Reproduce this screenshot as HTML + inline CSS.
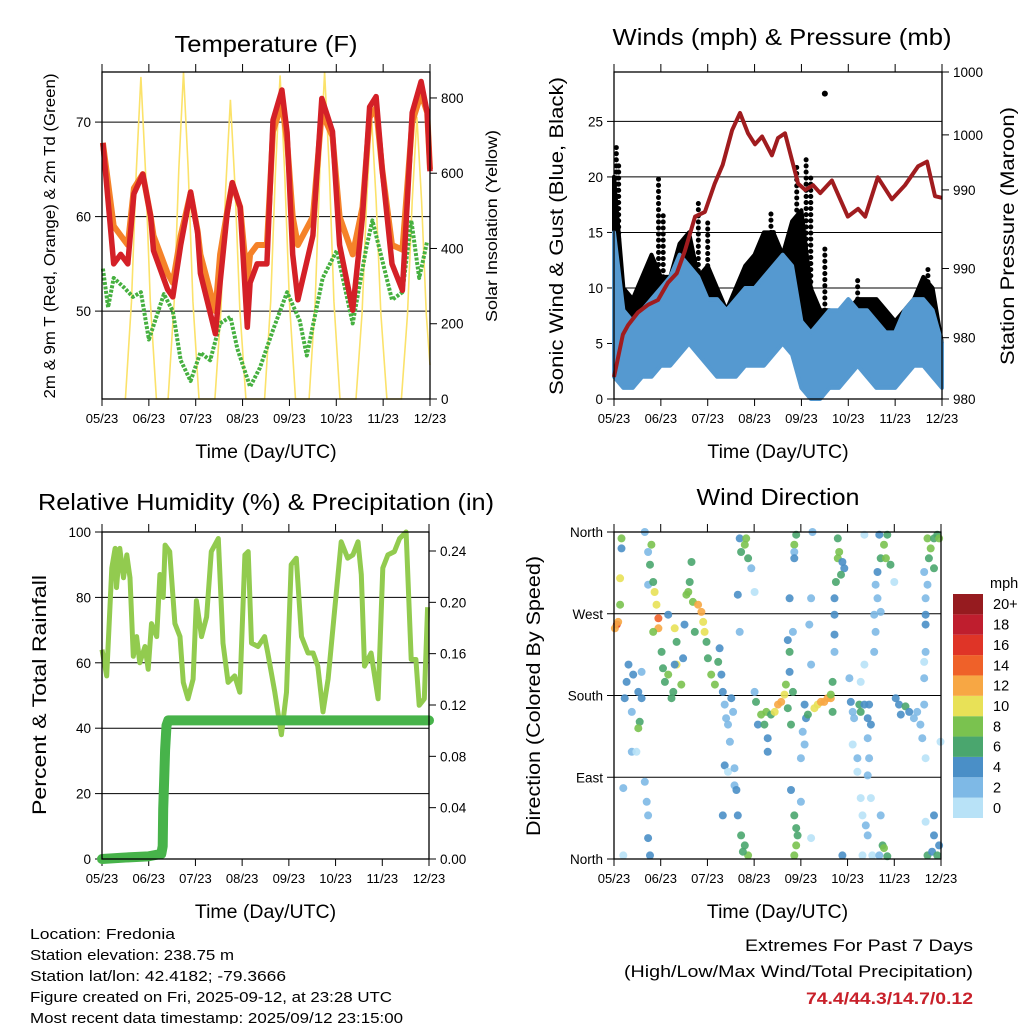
<!DOCTYPE html>
<html><head><meta charset="utf-8"><style>
html,body{margin:0;padding:0;background:#fff;}
svg{display:block;font-family:"Liberation Sans",sans-serif;}
</style></head><body>
<svg id="c" width="1024" height="1024" viewBox="0 0 1024 1024" xmlns="http://www.w3.org/2000/svg"></svg>
<script>
// ---------- Temperature panel data ----------
const tDays=[0.02,0.25,0.40,0.55,0.68,0.87,1.04,1.10,1.40,1.51,1.68,1.89,2.04,2.10,2.42,2.52,2.67,2.78,2.95,3.10,3.16,3.31,3.52,3.65,3.84,3.95,4.07,4.18,4.50,4.69,4.92,5.07,5.35,5.56,5.71,5.85,5.98,6.19,6.41,6.62,6.81,6.94,7.0];
const tRed=[67.8,55,56,55,62.4,64.5,60,56.4,52.3,51.5,57,62.6,58.3,54,47.6,53,60.3,63.6,61,48.3,53,55,55,70.2,73.4,68.9,56,51.2,58,72.5,69,57,50.1,60,71.6,72.7,65,55,52.2,71,74.3,71,64.8];
const tOrange=[67.8,59,58,57,63,64.5,60,58,54,53,58,62.5,58.5,56,50,56,60.5,63.5,61,53,56,57,57,69,72,68,60,57,60,71,68.5,60,56,61,70.5,71.5,65,57,56.5,70,73,71,65];
const tdDays=[0.02,0.13,0.25,0.47,0.66,0.83,1.0,1.32,1.51,1.68,1.89,2.10,2.31,2.52,2.74,2.89,3.16,3.37,3.65,3.95,4.22,4.37,4.71,5.01,5.35,5.64,5.77,5.98,6.19,6.41,6.60,6.77,6.94];
const tdVals=[54.5,50.4,53.5,52.5,51.5,52,47,51.8,50,44.8,42.6,45.6,44.8,48.7,49.4,46,42,44,48,52,49,45.3,53.5,56.4,48.7,56.7,59.6,55.4,51.2,52,59.6,53.5,57.4];
const solarDays=[0.5,0.63,0.73,0.83,0.93,1.03,1.16,1.41,1.54,1.64,1.74,1.84,1.94,2.07,2.41,2.54,2.64,2.74,2.84,2.94,3.07,3.47,3.6,3.7,3.8,3.9,4.0,4.13,4.42,4.55,4.65,4.75,4.85,4.95,5.08,5.42,5.55,5.65,5.75,5.85,5.95,6.08,6.39,6.52,6.62,6.72,6.82,6.92,7.0];
const solarVals=[0,260,600,856,600,260,0,0,260,610,869,610,260,0,0,240,560,795,560,240,0,0,260,600,860,600,260,0,0,260,610,869,610,260,0,0,230,530,755,530,230,0,0,225,525,750,525,225,90];
const tTicks=[50,60,70], solarTicks=[0,200,400,600,800];
const dateLabels=["05/23","06/23","07/23","08/23","09/23","10/23","11/23","12/23"];

// ---------- Wind panel data ----------
const wDays=[0,0.2,0.4,0.6,0.8,1.0,1.2,1.4,1.6,1.8,2.0,2.2,2.4,2.6,2.8,3.0,3.2,3.4,3.6,3.8,4.0,4.2,4.4,4.6,4.8,5.0,5.2,5.4,5.6,5.8,6.0,6.2,6.4,6.6,6.8,7.0];
const blueHi=[15,8,7,8,9,10,11,13,12,11,9,9,8,9,10,10,11,12,13,12,7,6,7,8,8,9,8,8,7,6,6,8,9,9,8,5];
const blueLo=[2,1,1,2,2,3,3,4,5,4,3,2,2,2,3,3,3,4,5,4,1,0,0,1,1,2,3,2,1,1,1,2,3,3,2,1];
const gustHi=[20,10,9,11,13,11,11,14,15,11,12,10,8,10,12,13,15,15,13,16,17,10,8,8,7,8,9,9,9,8,7,8,9,11,10,5];
const gustLo=[10,5,4,5,6,5,6,8,9,6,5,4,3,4,5,6,7,8,7,9,8,3,1,1,2,3,4,4,3,2,2,3,4,5,4,2];
const spikeDays=[0.05,0.1,0.95,1.05,1.8,2.0,3.35,3.4,3.9,4.1,4.2,4.5,5.2,6.7];
const spikeGust=[23,21,20,17,18,16,17,15,21,22,20,14,11,12];
const outlierDay=[4.5], outlierGust=[27.5];
const pDays=[0,0.19,0.30,0.51,0.73,0.94,1.15,1.34,1.51,1.73,1.94,2.15,2.32,2.52,2.69,2.86,3.01,3.16,3.37,3.50,3.65,3.93,4.08,4.25,4.40,4.65,4.99,5.21,5.36,5.63,5.93,6.21,6.49,6.68,6.85,7.0];
const pVals=[981.0,983.7,984.3,985.1,985.6,985.9,987.0,987.6,989.0,991.2,991.5,993.3,994.5,996.7,997.8,996.5,995.8,996.3,995.1,996.2,996.5,993.3,992.9,993.2,992.7,993.5,991.2,991.7,991.2,993.7,992.3,993.2,994.4,994.7,992.5,992.4];
const windTicks=[0,5,10,15,20,25];
const pTickVals=[979.6,983.5,987.9,992.9,996.4,1000.4];
const pTickLabels=["980","980","990","990","1000","1000"];

// ---------- RH panel data ----------
const rhDays=[0,0.10,0.21,0.28,0.31,0.38,0.46,0.53,0.60,0.67,0.74,0.81,0.92,0.99,1.06,1.17,1.24,1.31,1.35,1.45,1.56,1.67,1.74,1.84,1.95,2.02,2.13,2.24,2.34,2.49,2.59,2.70,2.84,2.95,3.06,3.13,3.20,3.34,3.48,3.55,3.70,3.84,3.95,4.05,4.16,4.27,4.41,4.52,4.62,4.73,4.84,4.98,5.12,5.26,5.37,5.48,5.55,5.62,5.76,5.91,6.01,6.12,6.26,6.37,6.51,6.62,6.72,6.79,6.90,6.97];
const rhVals=[64,56,89,95,83,95,86,93,86,62,68,60,65,58,72,68,87,80,96,94,72,68,54,49,55,79,68,74,94,98,66,54,56,51,93,94,66,65,68,63,51,38,51,90,92,68,63,63,59,45,55,76,97,92,93,97,87,59,63,49,89,93,94,98,100,61,61,47,49,77];
const prDays=[0,0.42,0.99,1.27,1.30,1.31,1.33,1.35,1.38,1.42,1.6,2.5,3.5,4.5,5.5,6.5,7.0];
const prVals=[0,0.001,0.002,0.004,0.01,0.039,0.06,0.085,0.104,0.108,0.108,0.108,0.108,0.108,0.108,0.108,0.108];
const rhTicks=[0,20,40,60,80,100];
const prTicks=[0,0.04,0.08,0.12,0.16,0.20,0.24];
const prTickLabels=["0.00","0.04","0.08","0.12","0.16","0.20","0.24"];

// ---------- Wind direction data ----------
const dirDays=[0.06,0.09,0.02,0.13,0.13,0.16,0.16,0.31,0.27,0.23,0.38,0.52,0.59,0.55,0.52,0.41,0.59,0.38,0.48,0.66,0.73,0.77,0.80,0.73,0.84,0.87,0.91,0.95,0.95,0.84,1.02,1.05,1.09,1.16,1.23,1.27,1.34,1.30,1.34,1.44,1.48,1.51,1.16,1.30,1.55,1.62,1.66,1.59,1.69,1.80,1.87,1.91,1.94,1.73,1.98,2.01,2.08,2.16,2.23,2.26,2.30,2.33,0.66,0.70,0.73,0.73,0.77,0.20,0.20,2.37,2.40,2.44,2.48,2.37,2.44,2.55,2.51,2.58,2.69,2.72,2.80,2.83,2.87,2.94,2.65,2.69,3.01,2.58,2.62,2.33,2.65,2.72,2.80,2.87,2.76,3.01,3.04,3.08,3.15,3.22,3.26,3.29,3.29,3.36,3.44,3.51,3.58,3.65,3.68,3.72,3.76,3.76,3.72,3.79,3.83,3.83,3.76,3.86,3.90,3.86,3.86,3.79,3.86,3.90,3.93,3.90,3.86,4.00,4.08,4.11,4.04,4.08,4.00,4.15,4.22,4.22,4.25,4.18,4.22,4.29,4.36,4.43,4.50,4.57,4.64,4.68,4.68,4.72,4.72,4.72,4.72,4.64,4.79,4.82,4.79,4.89,4.93,4.86,4.75,4.89,5.04,5.07,5.11,5.14,5.11,5.21,5.25,5.28,5.36,5.43,5.50,5.46,5.21,5.43,5.46,5.43,5.28,5.36,5.28,5.32,5.39,5.50,5.43,5.32,5.53,5.57,5.60,5.57,5.64,5.60,5.64,5.71,5.78,5.85,5.82,5.92,5.68,5.71,6.00,5.36,5.71,5.75,5.78,5.85,5.68,6.03,6.10,6.14,6.24,6.32,6.42,6.49,6.56,6.64,6.60,6.67,6.64,6.64,6.67,6.67,6.67,6.67,6.71,6.64,6.71,6.78,6.85,6.92,6.74,6.85,6.96,6.71,6.81,6.85,6.85,6.67,6.96,6.92,6.99];
const dirDeg=[258,261,254,280,309,353,342,214,195,177,162,184,177,151,144,203,206,118,118,360,338,324,346,302,305,294,280,265,254,250,228,210,195,203,177,184,214,254,239,192,221,258,269,214,291,305,327,294,283,280,272,261,250,250,239,221,203,192,217,232,203,184,85,63,48,23,4,78,4,170,155,148,129,103,96,162,177,100,353,338,346,353,331,320,291,250,294,81,76,48,48,26,15,4,8,184,173,148,159,148,162,133,118,159,162,170,173,181,192,166,206,228,241,148,184,250,287,346,357,338,331,76,48,34,26,15,4,63,170,155,140,126,111,159,214,287,360,258,23,166,170,173,173,177,177,162,195,287,269,247,228,181,353,338,331,327,320,313,305,4,199,173,162,155,126,111,170,162,170,155,148,170,96,92,111,133,195,214,67,48,37,67,26,4,4,228,250,269,287,302,316,331,346,357,331,324,357,272,305,357,48,15,12,3,4,177,170,159,168,162,155,162,148,170,133,111,217,199,228,258,269,287,302,316,353,342,353,357,331,320,353,4,8,26,48,41,15,4,129];
const dirSpd=[16,13,12,8,10,8,4,4,4,4,2,4,4,6,8,4,2,2,1,2,2,6,8,2,6,10,10,14,12,8,6,6,6,8,6,6,10,10,6,8,4,4,4,4,8,6,6,8,8,12,12,10,10,6,6,6,8,8,6,4,4,4,2,2,2,4,4,2,1,2,2,2,2,4,1,2,4,2,4,6,8,8,6,2,4,2,1,2,4,4,4,6,6,8,6,2,6,4,8,6,8,4,4,6,10,12,12,10,8,6,4,6,4,6,6,2,4,8,6,2,4,4,6,6,6,8,8,2,4,4,2,2,2,6,2,2,2,2,1,10,10,12,12,12,12,6,6,4,4,4,2,8,6,8,8,4,4,6,6,4,2,4,2,2,1,2,6,6,4,4,4,4,1,2,2,2,1,1,1,1,2,1,2,1,1,2,2,2,2,2,4,6,8,6,8,6,4,2,1,1,2,6,8,6,2,4,4,4,6,4,2,2,2,2,2,1,1,2,2,4,4,2,2,2,8,8,6,6,6,6,8,6,4,4,4,1,4,6,1];
const dirTickVals=[0,90,180,270,360];
const dirTickLabels=["North","East","South","West","North"];
const cbColors=["#b8e2f7","#7eb9e6","#4a8fc7","#4aa66e","#7ac24f","#e8e157","#f7a744","#ef6129","#df3427","#bf1e2e","#961b1f"];
const cbLabels=["0","2","4","6","8","10","12","14","16","18","20+"];

// ---------- helpers ----------
const NS="http://www.w3.org/2000/svg";
const svg=document.getElementById('c');
function el(tag,attrs,parent,text){const e=document.createElementNS(NS,tag);for(const k in attrs)e.setAttribute(k,attrs[k]);if(text!==undefined)e.textContent=text;(parent||svg).appendChild(e);return e;}
function lin(d0,d1,r0,r1){return v=>r0+(v-d0)/(d1-d0)*(r1-r0);}
function path(xs,ys,sx,sy){return xs.map((v,i)=>(i?'L':'M')+sx(v).toFixed(1)+','+sy(ys[i]).toFixed(1)).join('');}

function frame(name){
  const g=el('g',{});
  
  
  return g;
}
function box(g,x0,x1,y0,y1){const r=el('rect',{x:x0,y:y0,width:x1-x0,height:y1-y0,fill:'none',stroke:'#000','stroke-width':1.3},g);}
function xAxis(g,x0,x1,y0,y1,tly){
  const sx=lin(0,7,x0,x1);
  const ax=el('g',{},g);
  
  
  dateLabels.forEach((l,i)=>{
    const x=sx(i);
    el('line',{x1:x,x2:x,y1:y1,y2:y1+7,stroke:'#000','stroke-width':1},ax);
    el('line',{x1:x,x2:x,y1:y0,y2:y0-8,stroke:'#000','stroke-width':1},ax);
    const t=el('text',{x:x,y:y1+24,'font-size':13,'text-anchor':'middle'},ax,l);
    
    
  });
  const t=el('text',{x:(x0+x1)/2,y:tly,'font-size':19.5,'text-anchor':'middle'},ax,'Time (Day/UTC)');
  
  
  return sx;
}
function title(txt,x,y,size,len){const t=el('text',{x:x,y:y,'font-size':size,'text-anchor':'middle',textLength:len,lengthAdjust:'spacingAndGlyphs'},svg,txt);}
function vtitle(txt,x,y,size,len,name){const t=el('text',{x:0,y:0,'font-size':size,'text-anchor':'middle',transform:`translate(${x},${y}) rotate(-90)`,textLength:len,lengthAdjust:'spacingAndGlyphs'},svg,txt);}
function yTicks(g,vals,labels,sy,x,side,grid,gx0,gx1,name){
  const ax=el('g',{},g);
  
  
  vals.forEach((v,i)=>{
    const y=sy(v);
    if(grid) el('line',{x1:gx0,x2:gx1,y1:y,y2:y,stroke:'#000','stroke-width':1},ax);
    el('line',{x1:x,x2:x+(side<0?-7:7),y1:y,y2:y,stroke:'#000','stroke-width':1},ax);
    const t=el('text',{x:side<0?x-11:x+11,y:y+5,'font-size':13.5,'text-anchor':side<0?'end':'start'},ax,labels[i]);
    
    
  });
}

// ---------- Panel 1: temperature ----------
(function(){
  const x0=102,x1=430,y0=72,y1=399;
  const g=frame('temperature-panel');
  const sy=lin(40.7,75.3,y1,y0), ss=lin(0,869,y1,y0);
  const sx=xAxis(g,x0,x1,y0,y1,458);
  yTicks(g,tTicks,tTicks.map(String),sy,x0,-1,true,x0,x1,'left-y-axis');
  yTicks(g,solarTicks,solarTicks.map(String),ss,x1,1,false,0,0,'right-y-axis');
  const s=el('path',{d:path(solarDays,solarVals,sx,ss),fill:'none',stroke:'#fbe26a','stroke-width':1.6},g);
  
  const td=el('path',{d:path(tdDays,tdVals,sx,sy),fill:'none',stroke:'#46b040','stroke-width':4,'stroke-dasharray':'3 1.5','stroke-linejoin':'round'},g);
  
  const o=el('path',{d:path(tDays,tOrange,sx,sy),fill:'none',stroke:'#f58229','stroke-width':6,'stroke-linejoin':'round'},g);
  
  const r=el('path',{d:path(tDays,tRed,sx,sy),fill:'none',stroke:'#d42027','stroke-width':5.5,'stroke-linejoin':'round'},g);
  
  box(g,x0,x1,y0,y1);
  title('Temperature (F)',266,52,23,183);
  vtitle('2m & 9m T (Red, Orange) & 2m Td (Green)',55,236,15.5,325,'left-y-axis-title');
  vtitle('Solar Insolation (Yellow)',497,226,15.5,192,'right-y-axis-title');
})();

// ---------- Panel 2: winds & pressure ----------
(function(){
  const x0=614,x1=942,y0=72,y1=399;
  const g=frame('winds-panel');
  const sy=lin(0,29.45,y1,y0), sp=lin(979.6,1000.4,y1,y0);
  const sx=xAxis(g,x0,x1,y0,y1,458);
  yTicks(g,windTicks,windTicks.map(String),sy,x0,-1,true,x0,x1,'left-y-axis');
  yTicks(g,pTickVals,pTickLabels,sp,x1,1,false,0,0,'right-y-axis');
  const gp=path(wDays,gustHi,sx,sy)+path(wDays.slice().reverse(),gustLo.slice().reverse(),sx,sy).replace('M','L')+'Z';
  const ga=el('path',{d:gp,fill:'#000',stroke:'#000','stroke-width':4,'stroke-linejoin':'round'},g);
  
  spikeDays.forEach((d,i)=>{
    const j=wDays.findIndex(w=>w>=d);
    const base=gustHi[Math.max(0,j)];
    const c=el('line',{x1:sx(d),x2:sx(d),y1:sy(base),y2:sy(spikeGust[i]),stroke:'#000','stroke-width':5,'stroke-linecap':'round','stroke-dasharray':'0.1 6'},g);
    
    
  });
  outlierDay.forEach((d,i)=>{
    const c=el('circle',{cx:sx(d),cy:sy(outlierGust[i]),r:3,fill:'#000'},g);
    
    
  });
  const bp=path(wDays,blueHi,sx,sy)+path(wDays.slice().reverse(),blueLo.slice().reverse(),sx,sy).replace('M','L')+'Z';
  const ba=el('path',{d:bp,fill:'#5599d0',stroke:'#5599d0','stroke-width':4,'stroke-linejoin':'round'},g);
  
  const p=el('path',{d:path(pDays,pVals,sx,sp),fill:'none',stroke:'#a01c1f','stroke-width':4,'stroke-linejoin':'round'},g);
  
  box(g,x0,x1,y0,y1);
  title('Winds (mph) & Pressure (mb)',782,45,23,339);
  vtitle('Sonic Wind & Gust (Blue, Black)',563,236,19.5,318,'left-y-axis-title');
  vtitle('Station Pressure (Maroon)',1014,236,19.5,258,'right-y-axis-title');
})();

// ---------- Panel 3: RH & precipitation ----------
(function(){
  const x0=102,x1=429,y0=532,y1=859;
  const g=frame('humidity-panel');
  const sy=lin(0,100,y1,y0), sp=lin(0,0.2548,y1,y0);
  const sx=xAxis(g,x0,x1,y0,y1,918);
  yTicks(g,rhTicks,rhTicks.map(String),sy,x0,-1,true,x0,x1,'left-y-axis');
  yTicks(g,prTicks,prTickLabels,sp,x1,1,false,0,0,'right-y-axis');
  const r=el('path',{d:path(rhDays,rhVals,sx,sy),fill:'none',stroke:'#92cb4f','stroke-width':5,'stroke-linejoin':'round'},g);
  
  const pr=el('path',{d:path(prDays,prVals,sx,sp),fill:'none',stroke:'#47b34a','stroke-width':10,'stroke-linecap':'round','stroke-linejoin':'round'},g);
  
  box(g,x0,x1,y0,y1);
  title('Relative Humidity (%) & Precipitation (in)',266,510,23,456);
  vtitle('Percent & Total Rainfall',46,695,19.5,240,'left-y-axis-title');
})();

// ---------- Panel 4: wind direction ----------
(function(){
  const x0=614,x1=941,y0=532,y1=859;
  const g=frame('wind-direction-panel');
  const sy=lin(0,360,y1,y0);
  const sx=xAxis(g,x0,x1,y0,y1,918);
  yTicks(g,dirTickVals,dirTickLabels,sy,x0,-1,true,x0,x1,'left-y-axis');
  dirDays.forEach((d,i)=>{
    const ci=Math.min(10,Math.floor(dirSpd[i]/2));
    const c=el('circle',{cx:sx(d).toFixed(1),cy:sy(dirDeg[i]).toFixed(1),r:4,fill:cbColors[ci],'fill-opacity':0.9},g);
    
    
  });
  box(g,x0,x1,y0,y1);
  title('Wind Direction',778,505,23,163);
  vtitle('Direction (Colored By Speed)',540,696,19.5,280,'left-y-axis-title');
  const cb=el('g',{});
  
  
  const h=(818-594)/cbColors.length;
  cbColors.forEach((col,i)=>{
    const y=818-(i+1)*h;
    const r=el('rect',{x:953,y:y,width:30,height:h,fill:col},cb);
    
    
    const t=el('text',{x:993,y:y+h/2+5,'font-size':14.5},cb,cbLabels[i]);
    
    
  });
  const u=el('text',{x:990,y:588,'font-size':14.5},cb,'mph');
  
  
})();

// ---------- footer text ----------
const info=["Location: Fredonia","Station elevation: 238.75 m","Station lat/lon: 42.4182; -79.3666","Figure created on Fri, 2025-09-12, at 23:28 UTC","Most recent data timestamp: 2025/09/12 23:15:00"];
const infoLen=[145,204,256,362,373];
info.forEach((s,i)=>{
  const t=el('text',{x:30,y:939+i*21,'font-size':15,textLength:infoLen[i],lengthAdjust:'spacingAndGlyphs'},svg,s);
  
  
});
const e1=el('text',{x:973,y:951,'font-size':17,'text-anchor':'end',textLength:228,lengthAdjust:'spacingAndGlyphs'},svg,'Extremes For Past 7 Days');

const e2=el('text',{x:973,y:977,'font-size':17,'text-anchor':'end',textLength:349,lengthAdjust:'spacingAndGlyphs'},svg,'(High/Low/Max Wind/Total Precipitation)');

const e3=el('text',{x:973,y:1004,'font-size':17,'font-weight':'bold',fill:'#c8202a','text-anchor':'end',textLength:167,lengthAdjust:'spacingAndGlyphs'},svg,'74.4/44.3/14.7/0.12');

</script>
</body></html>
